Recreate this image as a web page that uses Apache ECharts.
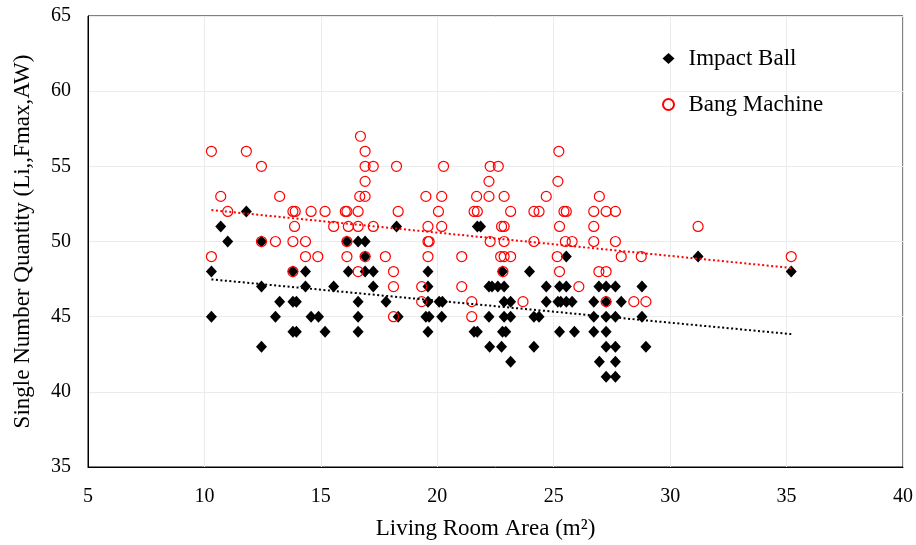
<!DOCTYPE html>
<html>
<head>
<meta charset="utf-8">
<script src="https://cdn.jsdelivr.net/npm/echarts@6/dist/echarts.min.js"></script>
<style>
html,body{margin:0;padding:0;background:#fff;}
#chart{width:916px;height:545px;}
</style>
</head>
<body>
<div id="chart"></div>
<script>
// Tick values
const xTicks = [5, 10, 15, 20, 25, 30, 35, 40];
const yTicks = [35, 40, 45, 50, 55, 60, 65];

// Series names
const seriesNames = ['Impact Ball', 'Bang Machine'];

// Impact Ball: [area m2, single number quantity]
const impactBall = [
  [10.3,48],[10.3,45],[10.7,51],[11.0,50],[11.8,52],
  [12.45,50],[12.45,47],[12.45,43],[13.05,45],[13.23,46],
  [13.8,48],[13.8,46],[13.95,46],[13.8,44],[13.95,44],
  [14.34,48],[14.34,47],[14.58,45],[14.9,45],[15.18,44],[15.55,47],
  [16.12,50],[16.18,48],[16.6,50],[16.6,46],[16.6,45],[16.6,44],
  [16.9,50],[16.9,49],[16.9,48],[17.25,48],[17.25,47],[17.8,46],
  [18.25,51],[18.32,45],
  [19.6,48],[19.6,47],[19.6,46],[19.51,45],[19.65,45],[19.6,44],
  [20.08,46],[20.22,46],[20.19,45],
  [21.58,44],[21.72,44],[21.72,51],[21.86,51],
  [22.22,47],[22.35,47],[22.6,47],[22.87,47],[22.8,48],
  [22.87,46],[23.15,46],[22.22,45],[22.87,45],[23.15,45],
  [22.8,44],[22.94,44],[22.25,43],[22.76,43],[23.15,42],
  [23.96,48],[24.15,45],[24.37,45],[24.15,43],[24.68,47],[24.68,46],
  [25.25,47],[25.54,47],[25.18,46],[25.3,46],[25.54,46],[25.79,46],
  [25.54,49],[25.25,44],[25.89,44],
  [26.72,46],[26.72,45],[26.72,44],[26.94,47],[27.25,47],[26.96,42],
  [27.25,46],[27.25,45],[27.25,44],[27.25,43],[27.25,41],
  [27.65,47],[27.65,45],[27.65,43],[27.65,42],[27.65,41],
  [27.9,46],[28.79,47],[28.79,45],[28.96,43],
  [31.2,49],[35.2,48]
];

// Bang Machine: [area m2, single number quantity]
const bangMachine = [
  [10.3,56],[10.3,49],[10.7,53],[11.0,52],[11.8,56],
  [12.45,55],[12.45,50],[13.05,50],[13.23,53],
  [13.8,52],[13.9,52],[13.87,51],[13.8,50],[13.8,48],
  [14.34,50],[14.34,49],[14.58,52],[14.87,49],[15.18,52],[15.55,51],
  [16.05,52],[16.12,52],[16.12,50],[16.12,49],[16.18,51],
  [16.6,52],[16.6,51],[16.6,48],[16.7,57],[16.67,53],
  [16.9,56],[16.9,55],[16.9,54],[16.9,53],[16.9,49],
  [17.25,55],[17.25,51],[17.77,49],
  [18.12,48],[18.12,47],[18.12,45],[18.25,55],[18.32,52],
  [19.33,47],[19.33,46],[19.51,53],[19.6,51],[19.6,50],[19.65,50],[19.6,49],
  [20.05,52],[20.19,53],[20.19,51],[20.27,55],
  [21.05,49],[21.05,47],[21.48,46],[21.48,45],
  [21.58,52],[21.72,52],[21.69,53],
  [22.22,54],[22.22,53],[22.27,50],[22.27,55],[22.62,55],
  [22.76,51],[22.87,51],[22.87,53],[22.87,50],
  [22.72,49],[22.87,49],[23.15,49],[22.82,48],[23.15,52],[23.68,46],
  [24.15,52],[24.37,52],[24.15,50],[24.68,53],
  [25.22,56],[25.18,54],[25.44,52],[25.54,52],[25.25,51],
  [25.5,50],[25.79,50],[25.15,49],[25.25,48],[26.08,47],
  [26.72,52],[26.72,51],[26.72,50],[26.96,53],[26.94,48],[27.25,48],
  [27.25,52],[27.25,46],[27.65,52],[27.65,50],[27.9,49],
  [28.44,46],[28.96,46],[28.76,49],
  [31.2,51],[35.2,49]
];

// Trend lines (start and end points)
const impactTrend = [[10.3,47.48],[35.2,43.84]];
const bangTrend = [[10.3,52.09],[35.2,48.24]];

const serif = "'Liberation Serif','Times New Roman',serif";

const chart = echarts.init(document.getElementById('chart'), null, {renderer:'canvas'});
chart.setOption({
  backgroundColor: '#ffffff',
  animation: false,
  grid: {
    left: 88, right: 11, top: 16, bottom: 73,
    show: true, borderColor: '#000', borderWidth: 1
  },
  legend: {
    data: seriesNames,
    orient: 'vertical',
    left: 657, top: 42,
    itemGap: 23,
    itemWidth: 12, itemHeight: 11,
    textStyle: {fontFamily: serif, fontSize: 23, color: '#000', padding: [0,0,0,9]}
  },
  xAxis: {
    type: 'value',
    min: xTicks[0], max: xTicks[xTicks.length-1], interval: xTicks[1]-xTicks[0],
    name: 'Living Room Area (m²)',
    nameLocation: 'middle', nameGap: 50,
    nameTextStyle: {fontFamily: serif, fontSize: 23, color: '#000', padding: [0, 20, 0, 0]},
    axisLine: {show: true, lineStyle: {color: '#000', width: 1}},
    axisTick: {show: false},
    axisLabel: {fontFamily: serif, fontSize: 20, color: '#000', margin: 20},
    splitLine: {show: true, lineStyle: {color: '#ebebeb', width: 1}}
  },
  yAxis: {
    type: 'value',
    min: yTicks[0], max: yTicks[yTicks.length-1], interval: yTicks[1]-yTicks[0],
    name: 'Single Number Quantity (Li,,Fmax,AW)',
    nameLocation: 'middle', nameGap: 54,
    nameTextStyle: {fontFamily: serif, fontSize: 23, color: '#000'},
    axisLine: {show: true, lineStyle: {color: '#000', width: 1}},
    axisTick: {show: false},
    axisLabel: {fontFamily: serif, fontSize: 20, color: '#000', margin: 17},
    splitLine: {show: true, lineStyle: {color: '#ebebeb', width: 1}}
  },
  series: [
    {
      name: seriesNames[0], type: 'scatter', data: impactBall,
      symbol: 'diamond', symbolSize: [11, 12],
      itemStyle: {color: '#000', opacity: 1}, z: 2
    },
    {
      name: seriesNames[1], type: 'scatter', data: bangMachine,
      symbol: 'circle', symbolSize: 10,
      itemStyle: {color: 'rgba(255,255,255,0)', borderColor: '#ff0000', borderWidth: 1.2, opacity: 1}, z: 3
    },
    {
      name: 'impactTrend', type: 'line', data: impactTrend, symbol: 'none',
      lineStyle: {color: '#000', width: 2, type: [2, 2.5]}, z: 4, silent: true
    },
    {
      name: 'bangTrend', type: 'line', data: bangTrend, symbol: 'none',
      lineStyle: {color: '#ff0000', width: 2, type: [2, 2.5]}, z: 4, silent: true
    }
  ]
});
</script>
</body>
</html>
